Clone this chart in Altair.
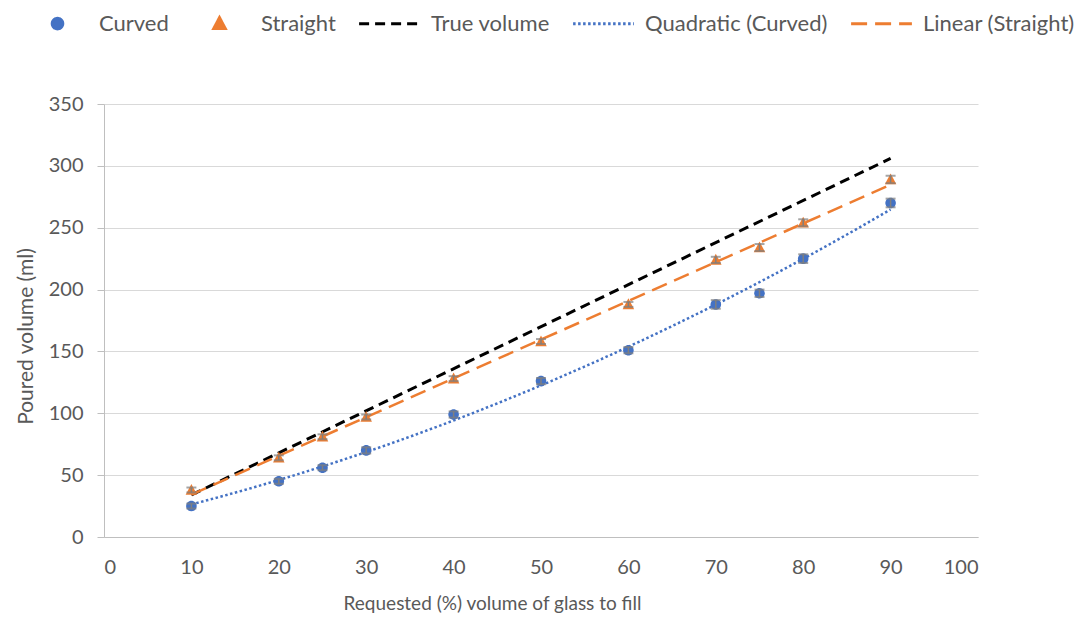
import altair as alt
import pandas as pd

# ---- data ----
requested = [10, 20, 25, 30, 40, 50, 60, 70, 75, 80, 90]
curved = [25, 45, 56, 70, 99, 126, 151, 188, 197, 225, 270]
straight = [38, 64, 81, 97, 128, 158, 188, 224, 234, 254, 289]
curved_err = [2, 2, 2, 2.5, 2.5, 2.5, 2.5, 3.5, 3, 3.5, 3.5]
straight_err = [2, 2, 2, 2, 2, 2, 2, 2.5, 2.8, 2.8, 3]
true_x = [10, 90]
true_y = [34, 306]

series_names = ["Curved", "Straight", "True volume", "Quadratic (Curved)", "Linear (Straight)"]
series_colors = ["#4472C4", "#ED7D31", "#000000", "#4472C4", "#ED7D31"]

# symbol paths in Vega's normalised [-1, 1] square; with size 4096 one unit = 32 px
CIRCLE = "M0,-0.165A0.165,0.165,0,1,1,0,0.165A0.165,0.165,0,1,1,0,-0.165Z"
TRIANGLE = "M0,-0.19L0.18,0.15L-0.18,0.15Z"
LINE = "M-0.95,0H0.95"
series_shapes = [CIRCLE, TRIANGLE, LINE, LINE, LINE]
series_dash = [[1, 0], [1, 0], [10, 6], [2.5, 2.5], [16, 8]]
SYM = 4096

rows = []
for x, y, e in zip(requested, curved, curved_err):
    rows.append({"x": x, "y": y, "lo": y - e, "hi": y + e, "series": "Curved"})
for x, y, e in zip(requested, straight, straight_err):
    rows.append({"x": x, "y": y, "lo": y - e, "hi": y + e, "series": "Straight"})
pts = pd.DataFrame(rows)
true_df = pd.DataFrame({"x": true_x, "y": true_y, "series": "True volume"})

FONT = "Lato"
TXT = "#595959"

xs = alt.Scale(domain=[0, 100])
ys = alt.Scale(domain=[0, 350])
X = alt.X("x:Q", scale=xs, title="Requested (%) volume of glass to fill",
          axis=alt.Axis(values=list(range(0, 101, 10)), grid=False, ticks=False,
                        domainColor="#BFBFBF", labelPadding=20,
                        titleX=388, titleY=66, titleAlign="center", titleBaseline="middle",
                        titleFontSize=19))
Y = alt.Y("y:Q", scale=ys, title="Poured volume (ml)",
          axis=alt.Axis(values=list(range(0, 351, 50)), gridColor="#D9D9D9",
                        tickColor="#BFBFBF", tickSize=7, domainColor="#BFBFBF",
                        labelPadding=14,
                        titleX=-78, titleY=232, titleAngle=270, titleAlign="center",
                        titleBaseline="middle", titleFontSize=21))

legend = alt.Legend(title=None, orient="none", direction="horizontal",
                    legendX=-80, legendY=-114, columns=5, columnPadding=17,
                    labelFont=FONT, labelFontSize=22, labelColor=TXT, labelLimit=0,
                    symbolSize=SYM, symbolStrokeWidth=3, labelOffset=8)
color = alt.Color("series:N", scale=alt.Scale(domain=series_names, range=series_colors), legend=legend)
shape = alt.Shape("series:N", scale=alt.Scale(domain=series_names, range=series_shapes), legend=legend)
dash = alt.StrokeDash("series:N", scale=alt.Scale(domain=series_names, range=series_dash), legend=legend)

base = alt.Chart(pts)

err_rule = base.mark_rule(color="#7F7F7F", strokeWidth=1.5).encode(
    x=X, y=alt.Y("lo:Q", scale=ys), y2="hi:Q")
cap_lo = base.mark_tick(color="#7F7F7F", orient="horizontal", size=10, thickness=2).encode(
    x="x:Q", y="lo:Q")
cap_hi = base.mark_tick(color="#7F7F7F", orient="horizontal", size=10, thickness=2).encode(
    x="x:Q", y="hi:Q")

points = base.mark_point(filled=True, opacity=1, size=SYM).encode(
    x=X, y=Y, color=color, shape=shape)

true_line = alt.Chart(true_df).mark_line(strokeWidth=3).encode(
    x=X, y=Y, color=color, strokeDash=dash)

quad = base.transform_filter(alt.datum.series == "Curved").transform_regression(
    "x", "y", method="quad").transform_calculate(series="'Quadratic (Curved)'").mark_line(
    strokeWidth=2.5, strokeCap="butt").encode(x=X, y=Y, color=color, strokeDash=dash)

lin = base.transform_filter(alt.datum.series == "Straight").transform_regression(
    "x", "y", method="linear").transform_calculate(series="'Linear (Straight)'").mark_line(
    strokeWidth=2.5).encode(x=X, y=Y, color=color, strokeDash=dash)

chart = alt.layer(true_line, lin, quad, points, err_rule, cap_lo, cap_hi).properties(
    width=874, height=433,
    autosize=alt.AutoSizeParams(type="none"),
    padding={"left": 96, "top": 96, "right": 101, "bottom": 76},
).configure_view(stroke=None).configure_axis(
    labelFont=FONT, labelFontSize=20, labelColor=TXT,
    titleFont=FONT, titleColor=TXT, titleFontWeight="normal",
)

chart.save("out.html", embed_options={"renderer": "svg", "actions": False})
